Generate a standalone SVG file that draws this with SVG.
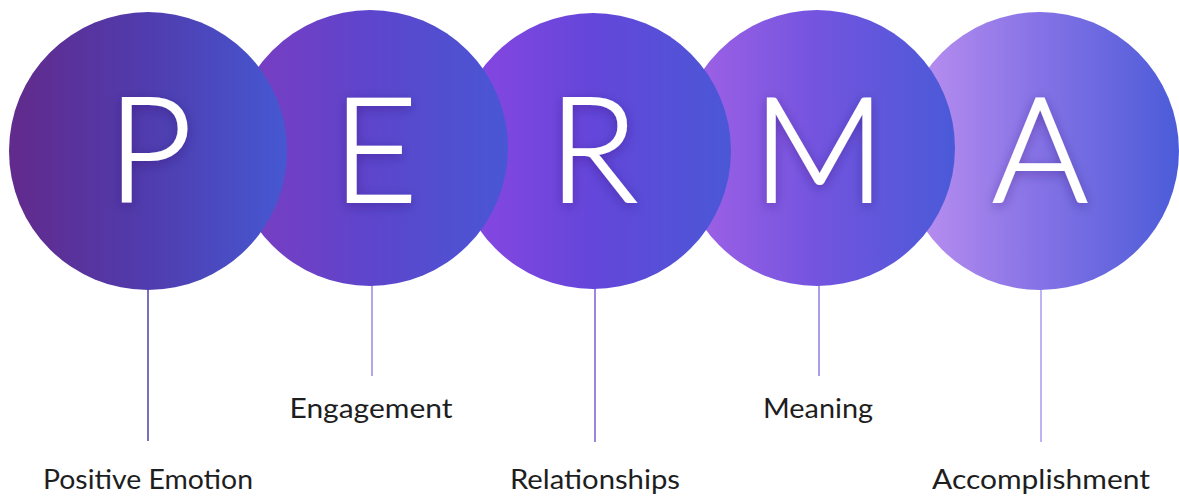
<svg xmlns="http://www.w3.org/2000/svg" width="1179" height="496" viewBox="0 0 1179 496">
  <defs>
    <linearGradient id="gP" x1="0" y1="0" x2="1" y2="0">
      <stop offset="0" stop-color="#622a8c"/>
      <stop offset="0.5" stop-color="#503cae"/>
      <stop offset="1" stop-color="#4558d2"/>
    </linearGradient>
    <linearGradient id="gE" x1="0" y1="0" x2="1" y2="0">
      <stop offset="0" stop-color="#7d3cc0"/>
      <stop offset="0.5" stop-color="#5d45cc"/>
      <stop offset="1" stop-color="#4857d4"/>
    </linearGradient>
    <linearGradient id="gR" x1="0" y1="0" x2="1" y2="0">
      <stop offset="0" stop-color="#8c46e2"/>
      <stop offset="0.5" stop-color="#6446da"/>
      <stop offset="1" stop-color="#4a58d6"/>
    </linearGradient>
    <linearGradient id="gM" x1="0" y1="0" x2="1" y2="0">
      <stop offset="0" stop-color="#a462e6"/>
      <stop offset="0.5" stop-color="#7354df"/>
      <stop offset="1" stop-color="#4a5ad8"/>
    </linearGradient>
    <linearGradient id="gA" x1="0" y1="0" x2="1" y2="0">
      <stop offset="0" stop-color="#c092f0"/>
      <stop offset="0.5" stop-color="#8572e6"/>
      <stop offset="1" stop-color="#4b5cd8"/>
    </linearGradient>
    <filter id="soft" x="-30%" y="-30%" width="160%" height="160%">
      <feDropShadow dx="0" dy="3" stdDeviation="6" flood-color="#2a1060" flood-opacity="0.35"/>
    </filter>
  </defs>
  <style>
    .letter { font-family: "Lato", "Open Sans", sans-serif; font-weight: 300; font-size: 146px; fill: #ffffff; stroke: #ffffff; stroke-width: 2.2; stroke-linejoin: miter; text-anchor: middle; }
    .label { font-family: "Lato", "Open Sans", sans-serif; font-size: 26px; fill: #1e1e1e; text-anchor: middle; }
    .link { stroke-width: 1.5; fill: none; }
  </style>
  <rect width="1179" height="496" fill="#ffffff"/>

  <!-- connectors: vertical stems from each circle down to its label -->
  <g id="connectors">
    <line class="link" x1="148" y1="288" x2="148" y2="441" stroke="#4a40a8"/>
    <line class="link" x1="372" y1="285" x2="372" y2="376" stroke="#9a8ae0"/>
    <line class="link" x1="595" y1="288" x2="595" y2="442" stroke="#7a5cd6"/>
    <line class="link" x1="819" y1="285" x2="819" y2="376" stroke="#8c7ee0"/>
    <line class="link" x1="1041" y1="288" x2="1041" y2="442" stroke="#a69cf0"/>
  </g>

  <!-- circles stacked right to left so each one overlaps its right neighbour -->
  <g id="node-A">
    <circle cx="1040" cy="151" r="139" fill="url(#gA)"/>
    <text class="letter" x="1040" y="202" filter="url(#soft)">A</text>
    <text class="label" x="1041" y="489" textLength="218" lengthAdjust="spacingAndGlyphs">Accomplishment</text>
  </g>
  <g id="node-M">
    <circle cx="817" cy="148" r="138" fill="url(#gM)"/>
    <text class="letter" x="819" y="202" filter="url(#soft)">M</text>
    <text class="label" x="818" y="418" textLength="110" lengthAdjust="spacingAndGlyphs">Meaning</text>
  </g>
  <g id="node-R">
    <circle cx="593" cy="151" r="138" fill="url(#gR)"/>
    <text class="letter" x="593" y="202" filter="url(#soft)">R</text>
    <text class="label" x="595" y="489" textLength="170" lengthAdjust="spacingAndGlyphs">Relationships</text>
  </g>
  <g id="node-E">
    <circle cx="370" cy="148" r="138" fill="url(#gE)"/>
    <text class="letter" x="375" y="202" filter="url(#soft)">E</text>
    <text class="label" x="371" y="418" textLength="163" lengthAdjust="spacingAndGlyphs">Engagement</text>
  </g>
  <g id="node-P">
    <circle cx="148" cy="151" r="139" fill="url(#gP)"/>
    <text class="letter" x="150" y="202" filter="url(#soft)">P</text>
    <text class="label" x="148" y="489" textLength="210" lengthAdjust="spacingAndGlyphs">Positive Emotion</text>
  </g>
</svg>
